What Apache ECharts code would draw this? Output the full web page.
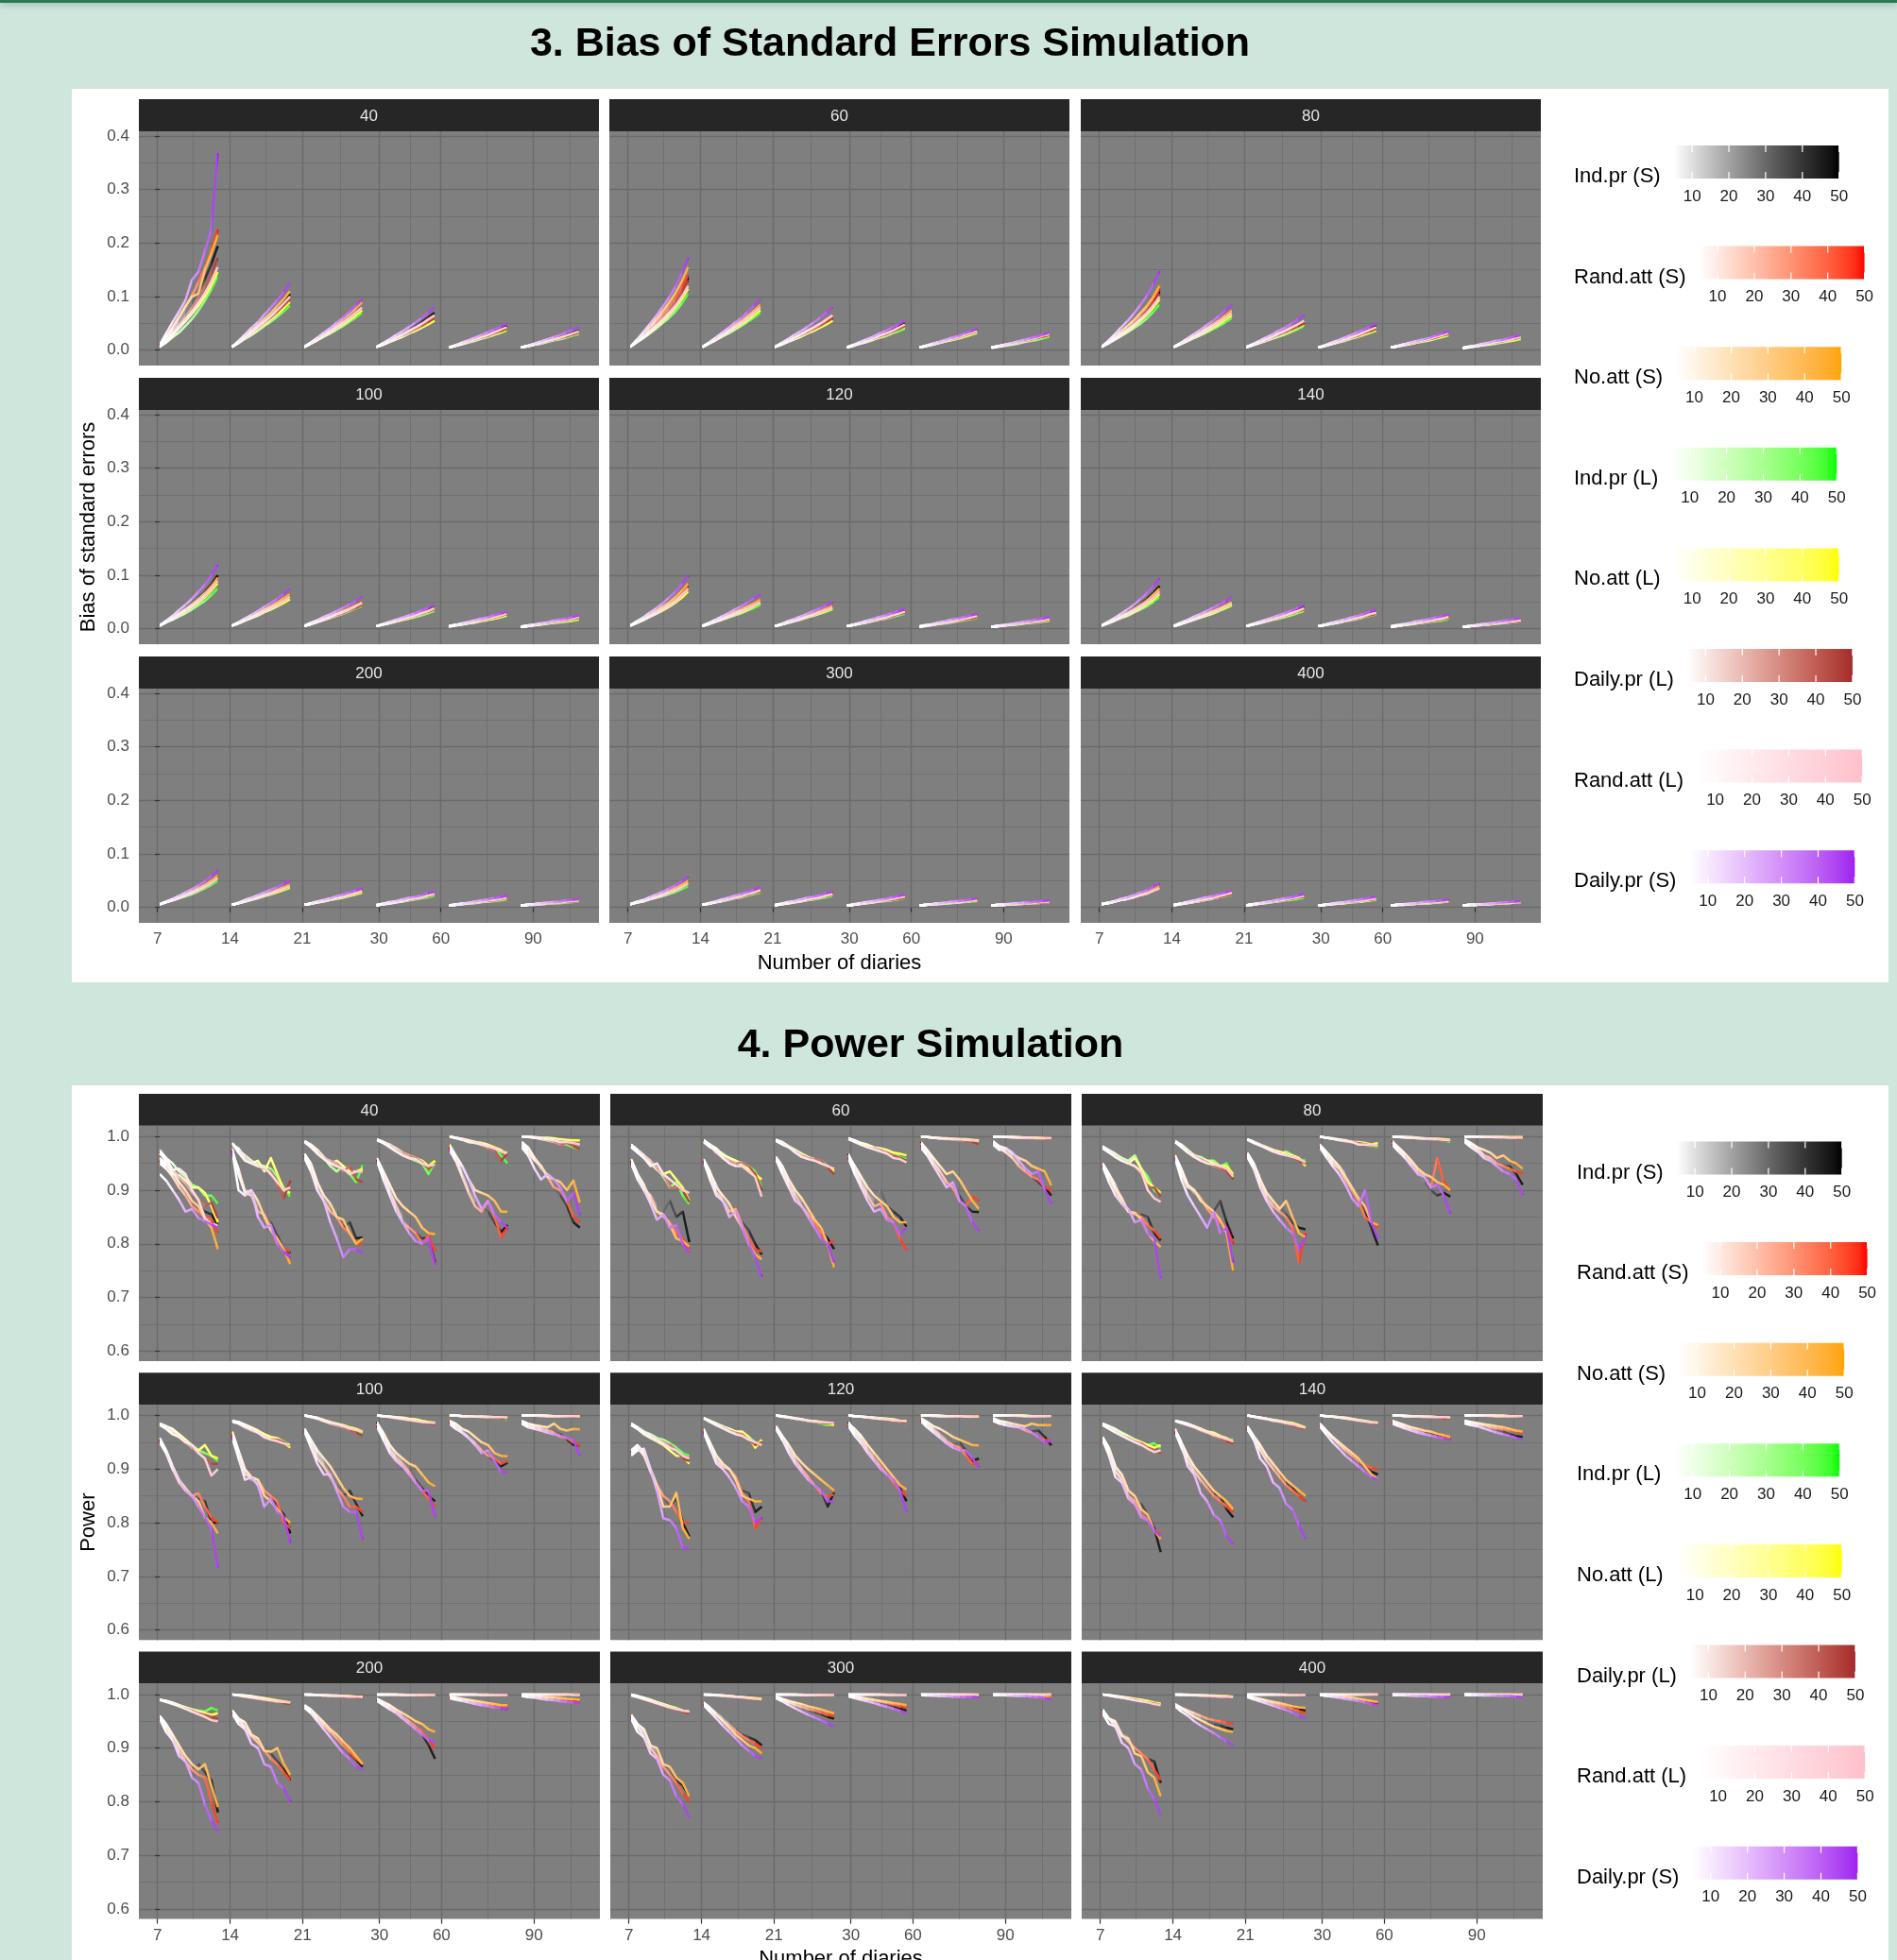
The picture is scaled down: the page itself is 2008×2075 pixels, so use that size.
<!DOCTYPE html>
<html>
<head>
<meta charset="utf-8">
<script src="https://cdn.jsdelivr.net/npm/echarts@6.0.0/dist/echarts.min.js"></script>
<style>
  html, body { margin: 0; padding: 0; background: #cfe6dc; overflow: hidden; }
  #topbar { position: absolute; left: 0; top: 0; width: 2008px; height: 3px; background: #2f7657; box-shadow: 0 2px 6px rgba(40, 90, 70, 0.45); }
  .card { position: absolute; left: 76px; width: 1923px; background: #ffffff; }
  #chart { position: absolute; left: 0; top: 0; width: 2008px; height: 2075px; }
</style>
</head>
<body>
<div id="topbar"></div>
<div class="card" style="top:94px;height:946px"></div>
<div class="card" style="top:1149px;height:926px"></div>
<div id="chart"></div>
<script>
// ---- categories / labels ----
const conditions = ['Ind.pr (S)', 'Rand.att (S)', 'No.att (S)', 'Ind.pr (L)', 'No.att (L)', 'Daily.pr (L)', 'Rand.att (L)', 'Daily.pr (S)'];
const highColors = ['#000000', '#FF0000', '#FFA500', '#00FF00', '#FFFF00', '#A52A2A', '#FFC0CB', '#A020F0'];
const panelLabels = ['40', '60', '80', '100', '120', '140', '200', '300', '400'];
const nValues = [5, 10, 15, 20, 25, 30, 35, 40, 45, 50];
const diaryLabels = ['7', '14', '21', '30', '60', '90'];
const diaryTickPos = [-0.34, 10.9, 22.1, 34.0, 43.6, 57.9];
const diaryMinorPos = [5.2, 16.5, 28.0, 38.8, 50.7, 63.6];
const legendBreaks = [10, 20, 30, 40, 50];
const biasTicks = [0, 0.1, 0.2, 0.3, 0.4];
const powerTicks = [0.6, 0.7, 0.8, 0.9, 1.0];

// ---- bias of standard errors (x1000), rows follow `conditions`, 6 diary groups x 10 n-values ----
const bias_40 = [
  [6,21,36,53,70,89,109,132,160,194, 6,15,25,35,45,56,66,78,91,105, 6,13,20,28,35,43,51,60,70,80, 6,12,18,25,31,38,45,53,61,70, 5,9,13,17,21,25,29,34,39,45, 5,8,11,14,17,21,24,28,32,36],
  [6,24,41,61,80,102,126,153,186,225, 6,14,22,30,39,48,57,67,78,90, 6,12,19,26,33,41,48,56,65,75, 6,11,16,22,27,33,39,45,52,60, 5,8,12,15,19,23,26,31,35,40, 5,8,10,13,16,19,22,25,29,33],
  [6,24,42,62,82,100,105,149,180,215, 6,15,26,36,47,58,69,82,95,110, 6,14,22,30,39,48,57,67,78,90, 6,11,16,22,27,33,39,45,52,60, 5,8,12,15,19,23,26,31,35,40, 5,8,10,13,16,19,22,25,29,33],
  [6,14,24,33,45,58,74,92,113,138, 6,13,21,28,36,45,53,62,72,83, 6,12,18,25,31,38,45,53,61,70, 6,10,15,20,25,31,36,42,48,55, 5,8,11,14,17,21,24,28,32,36, 5,7,10,12,15,18,20,23,27,30],
  [6,17,28,41,54,68,83,100,121,146, 6,14,22,30,39,48,57,67,78,90, 6,12,19,26,33,41,48,56,65,75, 6,10,15,20,25,31,36,42,48,55, 5,8,11,15,18,22,25,29,33,38, 5,7,10,13,16,19,21,25,28,32],
  [6,19,33,47,62,79,97,117,142,172, 6,14,23,32,41,51,60,71,83,95, 6,13,20,28,35,43,51,60,70,80, 6,11,16,22,27,33,39,45,52,60, 5,8,12,15,19,23,26,31,35,40, 5,8,10,13,16,19,22,25,29,33],
  [6,18,30,43,57,72,88,106,128,155, 6,15,24,33,43,53,63,75,87,100, 6,13,20,28,35,43,51,60,70,80, 6,11,17,23,29,36,42,49,57,65, 5,8,12,16,20,24,28,33,38,43, 5,8,11,14,17,20,23,27,31,35],
  [10,31,52,72,93,131,146,184,225,368, 6,17,29,41,52,66,79,93,108,125, 6,14,23,32,41,51,60,71,83,95, 6,13,20,28,35,43,51,60,70,80, 5,9,14,18,23,28,33,38,44,50, 5,8,12,16,20,24,28,33,38,43]
];
const bias_60 = [
  [6,16,27,38,50,63,77,92,112,135, 6,13,21,29,37,46,54,64,74,85, 6,11,17,23,29,36,42,49,57,65, 5,9,14,18,23,28,33,38,44,50, 5,8,11,15,18,22,25,29,33,38, 5,7,10,12,15,18,20,23,27,30],
  [6,17,27,40,52,65,80,96,116,140, 6,13,20,28,35,43,51,60,70,80, 6,11,16,22,27,33,39,45,52,60, 5,9,13,17,21,25,29,34,39,45, 5,8,11,14,17,20,23,27,31,35, 5,7,9,12,14,17,19,22,25,28],
  [6,18,30,43,57,72,88,106,128,155, 6,13,21,29,37,46,54,64,74,85, 6,11,17,23,29,36,42,49,57,65, 5,9,13,17,21,25,29,34,39,45, 5,8,11,14,17,20,23,27,31,35, 5,7,9,12,14,17,19,22,25,28],
  [6,14,22,31,40,50,60,72,87,105, 6,12,18,25,31,38,45,53,61,70, 6,10,15,20,25,31,36,42,48,55, 5,8,12,15,19,23,26,31,35,40, 5,7,10,13,16,19,21,25,28,32, 4,6,8,10,12,15,17,19,22,25],
  [6,15,23,33,43,54,66,79,95,115, 6,12,19,26,33,41,48,56,65,75, 6,10,15,20,25,31,36,42,48,55, 5,8,12,16,20,24,28,33,38,43, 5,8,10,13,16,19,22,25,29,33, 5,7,9,11,14,16,18,21,24,27],
  [6,16,26,37,48,61,74,89,108,130, 6,13,20,28,35,43,51,60,70,80, 6,11,16,22,27,33,39,45,52,60, 5,9,13,17,21,25,29,34,39,45, 5,8,11,14,17,20,23,27,31,35, 5,7,9,12,14,17,19,22,25,28],
  [6,15,24,35,45,56,69,82,99,120, 6,13,20,28,35,43,51,60,70,80, 6,11,17,23,29,36,42,49,57,65, 5,9,13,17,22,27,31,36,42,48, 5,8,11,14,17,21,24,28,32,36, 5,7,10,12,15,18,20,23,27,30],
  [6,19,33,48,63,80,98,118,143,173, 6,14,23,32,41,51,60,71,83,95, 6,13,20,28,35,43,51,60,70,80, 6,10,15,20,25,31,36,42,48,55, 5,8,12,15,19,23,26,31,35,40, 5,8,10,13,16,19,22,25,29,33]
];
const bias_80 = [
  [6,14,23,32,41,52,63,76,91,110, 6,12,19,26,33,41,48,56,65,75, 6,10,15,20,25,31,36,42,48,55, 5,9,13,17,21,25,29,34,39,45, 5,7,10,13,16,19,21,25,28,32, 4,6,8,10,12,15,17,19,22,25],
  [6,15,23,33,43,54,66,79,95,115, 6,12,18,25,31,38,45,53,61,70, 5,9,14,18,23,28,33,38,44,50, 5,8,12,15,19,23,26,31,35,40, 5,7,10,12,15,18,20,23,27,30, 4,6,8,10,12,14,16,19,21,24],
  [6,15,24,35,45,56,69,82,99,120, 6,12,19,26,33,41,48,56,65,75, 6,10,15,20,25,31,36,42,48,55, 5,8,12,15,19,23,26,31,35,40, 5,7,10,12,15,18,20,23,27,30, 4,6,8,10,12,14,16,19,21,24],
  [6,12,19,26,33,41,49,59,71,85, 6,11,16,22,27,33,39,45,52,60, 5,9,13,17,21,25,29,34,39,45, 5,8,11,14,17,21,24,28,32,36, 5,7,9,11,14,16,18,21,24,27, 4,5,7,9,10,12,14,16,18,20],
  [6,13,20,28,36,45,55,66,79,95, 6,11,17,23,29,36,42,49,57,65, 5,9,13,17,22,27,31,36,42,48, 5,8,11,15,18,22,25,29,33,38, 5,7,9,12,14,17,19,22,25,28, 4,6,7,9,11,13,15,17,19,22],
  [6,14,22,31,40,50,60,72,87,105, 6,12,18,25,31,38,45,53,61,70, 5,9,14,18,23,28,33,38,44,50, 5,8,12,15,19,23,26,31,35,40, 5,7,10,12,15,18,20,23,27,30, 4,6,8,10,12,14,16,19,21,24],
  [6,14,21,30,38,47,58,69,83,100, 6,12,18,25,31,38,45,53,61,70, 6,10,15,20,25,31,36,42,48,55, 5,8,12,16,20,24,28,33,38,43, 5,7,10,13,16,19,21,25,28,32, 4,6,8,10,12,15,17,19,22,25],
  [6,17,29,42,54,68,84,101,122,148, 6,13,21,29,37,46,54,64,74,85, 6,11,17,23,29,36,42,49,57,65, 5,9,14,18,23,28,33,38,44,50, 5,8,11,14,17,20,23,27,31,35, 5,7,9,12,14,17,19,22,25,28]
];
const bias_100 = [
  [6,14,21,30,38,47,58,69,83,100, 6,11,17,23,29,36,42,49,57,65, 5,9,14,18,23,28,33,38,44,50, 5,8,12,15,19,23,26,31,35,40, 5,7,9,12,14,17,19,22,25,28, 4,6,7,9,11,13,15,17,19,22],
  [6,13,20,28,36,45,55,66,79,95, 6,11,16,22,27,33,39,45,52,60, 5,9,13,17,22,27,31,36,42,48, 5,8,11,15,18,22,25,29,33,38, 5,7,9,11,14,16,18,21,24,27, 4,5,7,9,10,12,14,16,18,20],
  [6,13,20,28,36,45,55,66,79,95, 6,11,17,23,29,36,42,49,57,65, 5,9,14,18,23,28,33,38,44,50, 5,8,11,15,18,22,25,29,33,38, 5,7,9,11,14,16,18,21,24,27, 4,5,7,9,10,12,14,16,18,20],
  [6,12,17,23,29,36,44,52,63,75, 6,10,15,20,25,31,36,42,48,55, 5,8,12,16,20,24,28,33,38,43, 5,8,10,13,16,19,22,25,29,33, 4,6,8,10,12,14,16,19,21,24, 4,5,6,8,9,11,12,13,15,17],
  [6,12,19,26,33,41,49,59,71,85, 6,10,15,20,25,31,36,42,48,55, 5,9,13,17,21,25,29,34,39,45, 5,8,11,14,17,20,23,27,31,35, 4,6,8,10,12,15,17,19,22,25, 4,5,7,8,10,11,13,14,16,18],
  [6,13,19,27,35,43,52,62,75,90, 6,11,16,22,27,33,39,45,52,60, 5,9,13,17,21,25,29,34,39,45, 5,8,11,14,17,21,24,28,32,36, 5,7,9,11,14,16,18,21,24,27, 4,5,7,9,10,12,14,16,18,20],
  [6,13,19,27,35,43,52,62,75,90, 6,11,16,22,27,33,39,45,52,60, 5,9,13,17,22,27,31,36,42,48, 5,8,11,15,18,22,25,29,33,38, 5,7,9,12,14,17,19,22,25,28, 4,6,7,9,11,13,15,17,19,22],
  [6,15,24,35,45,56,69,82,99,120, 6,12,19,26,33,41,48,56,65,75, 6,11,16,22,27,33,39,45,52,60, 5,9,13,17,21,25,29,34,39,45, 5,7,10,13,16,19,21,25,28,32, 4,6,8,10,12,15,17,19,22,25]
];
const bias_120 = [
  [6,12,19,26,33,41,49,59,71,85, 6,10,15,20,25,31,36,42,48,55, 5,8,12,16,20,24,28,33,38,43, 5,8,10,13,16,19,22,25,29,33, 4,6,8,10,12,15,17,19,22,25, 4,5,7,8,10,11,13,14,16,18],
  [6,12,18,24,31,39,47,56,67,80, 5,9,14,18,23,28,33,38,44,50, 5,8,12,15,19,23,26,31,35,40, 5,7,10,13,16,19,21,25,28,32, 4,6,8,10,12,14,16,19,21,24, 4,5,6,8,9,11,12,13,15,17],
  [6,12,19,26,33,41,49,59,71,85, 6,10,15,20,25,31,36,42,48,55, 5,8,12,16,20,24,28,33,38,43, 5,7,10,13,16,19,21,25,28,32, 4,6,8,10,12,14,16,19,21,24, 4,5,6,8,9,11,12,13,15,17],
  [6,11,16,22,28,34,41,49,58,70, 5,9,13,17,21,25,29,34,39,45, 5,8,11,14,17,21,24,28,32,36, 5,7,9,12,14,17,19,22,25,28, 4,5,7,9,10,12,14,16,18,20, 4,5,6,7,8,10,11,12,13,15],
  [6,11,16,22,28,34,41,49,58,70, 5,9,13,17,22,27,31,36,42,48, 5,8,11,15,18,22,25,29,33,38, 5,7,10,12,15,18,20,23,27,30, 4,6,7,9,11,13,15,17,19,22, 4,5,6,8,9,10,11,13,14,16],
  [6,12,17,23,29,36,44,52,63,75, 5,9,14,18,23,28,33,38,44,50, 5,8,12,15,19,23,26,31,35,40, 5,7,10,12,15,18,20,23,27,30, 4,6,7,9,11,13,15,17,19,22, 4,5,6,8,9,11,12,13,15,17],
  [6,12,17,23,29,36,44,52,63,75, 5,9,14,18,23,28,33,38,44,50, 5,8,12,15,19,23,26,31,35,40, 5,7,10,13,16,19,21,25,28,32, 4,6,8,10,12,14,16,19,21,24, 4,5,7,8,10,11,13,14,16,18],
  [6,14,21,30,38,47,58,69,83,100, 6,11,17,23,29,36,42,49,57,65, 5,9,14,18,23,28,33,38,44,50, 5,8,11,15,18,22,25,29,33,38, 5,7,9,12,14,17,19,22,25,28, 4,6,7,9,11,13,15,17,19,22]
];
const bias_140 = [
  [6,12,18,24,31,39,47,56,67,80, 5,9,14,18,23,28,33,38,44,50, 5,8,12,15,19,23,26,31,35,40, 5,7,10,13,16,19,21,25,28,32, 4,6,7,9,11,13,15,17,19,22, 4,5,6,8,9,10,11,13,14,16],
  [6,12,17,23,29,36,44,52,63,75, 5,9,13,17,22,27,31,36,42,48, 5,8,11,15,18,22,25,29,33,38, 5,7,10,12,15,18,20,23,27,30, 4,6,7,9,11,13,15,17,19,22, 4,5,6,8,9,10,11,13,14,16],
  [6,12,17,23,29,36,44,52,63,75, 5,9,14,18,23,28,33,38,44,50, 5,8,11,15,18,22,25,29,33,38, 5,7,10,12,15,18,20,23,27,30, 4,6,7,9,11,13,15,17,19,22, 4,5,6,8,9,10,11,13,14,16],
  [6,10,15,20,24,30,36,42,50,60, 5,8,12,16,20,24,28,33,38,43, 5,8,10,13,16,19,22,25,29,33, 5,7,9,11,14,16,18,21,24,27, 4,5,7,8,10,11,13,14,16,18, 4,5,6,7,8,9,10,11,13,14],
  [6,11,15,21,26,32,38,46,54,65, 5,9,13,17,21,25,29,34,39,45, 5,8,11,14,17,20,23,27,31,35, 5,7,9,12,14,17,19,22,25,28, 4,5,7,9,10,12,14,16,18,20, 4,5,6,7,8,10,11,12,13,15],
  [6,11,16,22,28,34,41,49,58,70, 5,9,13,17,22,27,31,36,42,48, 5,8,11,14,17,21,24,28,32,36, 5,7,9,12,14,17,19,22,25,28, 4,5,7,9,10,12,14,16,18,20, 4,5,6,7,8,10,11,12,13,15],
  [6,11,16,22,28,34,41,49,58,70, 5,9,13,17,22,27,31,36,42,48, 5,8,11,15,18,22,25,29,33,38, 5,7,10,12,15,18,20,23,27,30, 4,6,7,9,11,13,15,17,19,22, 4,5,6,8,9,10,11,13,14,16],
  [6,13,20,28,36,45,55,66,79,95, 6,11,16,22,27,33,39,45,52,60, 5,9,13,17,21,25,29,34,39,45, 5,8,11,14,17,21,24,28,32,36, 5,7,9,11,14,16,18,21,24,27, 4,5,7,9,10,12,14,16,18,20]
];
const bias_200 = [
  [6,10,15,20,24,30,36,42,50,60, 5,8,12,16,20,24,28,33,38,43, 5,7,10,13,16,19,21,25,28,32, 5,7,9,11,14,16,18,21,24,27, 4,5,7,8,10,11,13,14,16,18, 4,5,6,7,8,9,9,11,12,13],
  [6,10,14,19,24,29,35,41,49,58, 5,8,12,15,19,23,26,31,35,40, 5,7,10,12,15,18,20,23,27,30, 4,6,8,10,12,15,17,19,22,25, 4,5,7,8,10,11,13,14,16,18, 4,5,6,7,8,9,9,11,12,13],
  [6,10,15,20,24,30,36,42,50,60, 5,8,12,16,20,24,28,33,38,43, 5,7,10,13,16,19,21,25,28,32, 4,6,8,10,12,15,17,19,22,25, 4,5,7,8,10,11,13,14,16,18, 4,5,6,7,8,9,9,11,12,13],
  [6,10,13,17,21,25,30,36,42,50, 5,8,11,14,17,21,24,28,32,36, 5,7,9,11,14,16,18,21,24,27, 4,6,7,9,11,13,15,17,19,22, 4,5,6,7,8,10,11,12,13,15, 4,5,5,6,7,8,8,9,10,11],
  [6,10,14,18,23,28,33,39,46,55, 5,8,11,15,18,22,25,29,33,38, 5,7,9,12,14,17,19,22,25,28, 4,6,8,10,12,14,16,19,21,24, 4,5,6,8,9,10,11,13,14,16, 4,5,6,6,7,8,9,10,11,12],
  [6,10,14,18,23,28,33,39,46,55, 5,8,12,15,19,23,26,31,35,40, 5,7,10,12,15,18,20,23,27,30, 4,6,8,10,12,14,16,19,21,24, 4,5,6,8,9,11,12,13,15,17, 4,5,6,6,7,8,9,10,11,12],
  [6,10,14,18,23,28,33,39,46,55, 5,8,12,15,19,23,26,31,35,40, 5,7,10,12,15,18,20,23,27,30, 4,6,8,10,12,15,17,19,22,25, 4,5,7,8,10,11,13,14,16,18, 4,5,6,7,8,9,9,11,12,13],
  [6,11,16,22,28,34,41,49,58,70, 5,9,14,18,23,28,33,38,44,50, 5,8,11,14,17,21,24,28,32,36, 5,7,10,12,15,18,20,23,27,30, 4,6,7,9,11,13,15,17,19,22, 4,5,6,8,9,10,11,13,14,16]
];
const bias_300 = [
  [6,10,13,17,21,25,30,36,42,50, 5,8,10,13,16,19,22,25,29,33, 5,7,9,11,14,16,18,21,24,27, 4,5,7,9,10,12,14,16,18,20, 4,5,6,7,8,10,11,12,13,15, 4,5,6,6,7,8,9,10,11,12],
  [6,10,13,17,21,25,30,36,42,50, 5,7,10,13,16,19,21,25,28,32, 4,6,8,10,12,15,17,19,22,25, 4,5,7,9,10,12,14,16,18,20, 4,5,6,7,8,9,10,11,13,14, 4,5,5,6,7,8,8,9,10,11],
  [6,10,13,17,21,25,30,36,42,50, 5,8,10,13,16,19,22,25,29,33, 4,6,8,10,12,15,17,19,22,25, 4,5,7,9,10,12,14,16,18,20, 4,5,6,7,8,9,10,11,13,14, 4,5,5,6,7,8,8,9,10,11],
  [6,9,11,15,18,21,25,29,34,40, 5,7,9,12,14,17,19,22,25,28, 4,6,7,9,11,13,15,17,19,22, 4,5,6,8,9,11,12,13,15,17, 4,5,6,6,7,8,9,10,11,12, 4,5,5,6,6,7,8,8,9,10],
  [6,9,12,16,19,23,28,32,38,45, 5,7,10,12,15,18,20,23,27,30, 4,6,8,10,12,14,16,19,21,24, 4,5,7,8,10,11,13,14,16,18, 4,5,6,7,8,9,9,11,12,13, 4,5,5,6,6,7,8,8,9,10],
  [6,9,12,16,19,23,28,32,38,45, 5,7,10,12,15,18,20,23,27,30, 4,6,8,10,12,14,16,19,21,24, 4,5,7,8,10,11,13,14,16,18, 4,5,6,7,8,9,10,11,13,14, 4,5,5,6,6,7,8,8,9,10],
  [6,9,12,16,19,23,28,32,38,45, 5,7,10,13,16,19,21,25,28,32, 4,6,8,10,12,15,17,19,22,25, 4,5,7,9,10,12,14,16,18,20, 4,5,6,7,8,9,10,11,13,14, 4,5,5,6,7,8,8,9,10,11],
  [6,10,14,19,24,29,35,41,49,58, 5,8,11,15,18,22,25,29,33,38, 5,7,10,12,15,18,20,23,27,30, 4,6,8,10,12,14,16,19,21,24, 4,5,6,8,9,11,12,13,15,17, 4,5,6,7,8,9,9,11,12,13]
];
const bias_400 = [
  [6,9,11,15,18,21,25,29,34,40, 5,7,9,12,14,17,19,22,25,28, 4,6,7,9,11,13,15,17,19,22, 4,5,6,8,9,11,12,13,15,17, 4,5,6,7,8,9,9,11,12,13, 4,5,5,6,6,7,8,8,9,10],
  [6,9,11,15,18,21,25,29,34,40, 5,7,9,11,14,16,18,21,24,27, 4,6,7,9,11,13,15,17,19,22, 4,5,6,8,9,10,11,13,14,16, 4,5,6,6,7,8,9,10,11,12, 4,5,5,6,6,7,8,8,9,10],
  [6,9,11,15,18,21,25,29,34,40, 5,7,9,12,14,17,19,22,25,28, 4,6,7,9,11,13,15,17,19,22, 4,5,6,8,9,11,12,13,15,17, 4,5,6,6,7,8,9,10,11,12, 4,5,5,6,6,7,8,8,9,10],
  [6,8,11,14,16,19,23,26,31,36, 4,6,8,10,12,14,16,19,21,24, 4,5,7,8,10,11,13,14,16,18, 4,5,6,7,8,9,10,11,13,14, 4,5,5,6,7,8,8,9,10,11, 4,5,5,6,6,7,8,8,9,10],
  [6,8,11,14,16,19,23,26,31,36, 4,6,8,10,12,15,17,19,22,25, 4,5,7,9,10,12,14,16,18,20, 4,5,6,7,8,10,11,12,13,15, 4,5,5,6,7,8,8,9,10,11, 4,5,5,6,6,7,8,8,9,10],
  [6,8,11,14,16,19,23,26,31,36, 4,6,8,10,12,15,17,19,22,25, 4,5,7,9,10,12,14,16,18,20, 4,5,6,8,9,10,11,13,14,16, 4,5,6,6,7,8,9,10,11,12, 4,5,5,6,6,7,8,8,9,10],
  [6,8,11,14,16,19,23,26,31,36, 5,7,9,11,14,16,18,21,24,27, 4,6,7,9,11,13,15,17,19,22, 4,5,6,8,9,11,12,13,15,17, 4,5,6,6,7,8,9,10,11,12, 4,5,5,6,6,7,8,8,9,10],
  [6,9,12,16,19,23,28,32,38,45, 5,7,10,13,16,19,21,25,28,32, 4,6,8,10,12,15,17,19,22,25, 4,5,7,9,10,12,14,16,18,20, 4,5,6,7,8,10,11,12,13,15, 4,5,6,6,7,8,9,10,11,12]
];

// ---- power (x1000), rows follow `conditions` ----
const power_40 = [
  [955,945,930,910,895,880,870,860,855,835, 975,935,900,895,870,850,840,815,790,783, 965,945,910,890,870,860,830,840,810,812, 958,930,900,870,850,830,820,810,810,765, 985,960,930,900,880,870,860,840,822,835, 990,975,960,940,930,905,890,870,840,830],
  [950,940,925,905,890,870,860,850,845,820, 970,940,895,890,860,855,830,800,790,785, 965,940,900,880,860,850,830,820,800,800, 956,925,895,870,840,830,820,800,815,786, 980,955,925,895,870,860,880,850,812,830, 985,970,955,945,925,905,900,880,850,840],
  [960,950,935,915,900,880,870,845,830,790, 978,930,895,900,880,850,825,810,790,762, 968,950,915,890,875,850,845,820,800,810, 960,935,910,885,870,860,850,830,820,818, 985,965,945,920,900,895,890,880,860,860, 990,980,960,945,925,920,915,900,918,877],
  [975,960,950,935,925,910,905,890,890,875, 988,975,965,955,948,945,940,925,905,888, 990,985,970,960,945,935,945,930,915,947, 995,990,982,975,965,960,955,950,930,953, 1000,998,995,992,990,985,980,975,965,950, 1000,1000,998,995,993,990,988,985,980,976],
  [970,955,930,928,918,905,905,895,870,840, 985,978,960,950,955,935,960,930,900,895, 992,985,975,962,950,955,945,935,935,940, 995,990,985,978,970,965,960,955,945,955, 1000,998,996,993,990,988,985,980,975,965, 1000,1000,999,998,998,997,995,994,993,993],
  [972,955,938,925,912,895,882,870,877,848, 985,975,962,950,945,940,935,910,885,918, 990,982,972,960,955,950,935,945,920,915, 995,988,985,975,970,965,960,952,940,950, 1000,998,995,990,988,985,978,975,955,968, 1000,1000,998,996,994,990,985,988,982,976],
  [968,960,938,940,930,900,882,848,836,835, 988,970,955,950,945,942,930,915,900,905, 990,980,968,958,950,945,940,930,935,935, 993,988,980,972,965,960,958,950,945,948, 1000,997,994,990,988,985,982,978,972,970, 1000,999,998,997,995,993,990,990,988,985],
  [930,918,900,882,860,865,848,842,836,830, 975,900,890,900,850,830,835,800,785,774, 960,935,900,880,840,810,775,790,790,782, 955,920,890,860,840,820,805,800,810,760, 975,955,945,920,890,865,880,855,840,830, 980,965,940,920,930,920,905,880,895,853]
];
const power_60 = [
  [955,930,905,890,870,860,880,850,860,803, 956,930,910,880,870,855,840,825,800,780, 962,940,915,895,880,860,840,825,810,790, 968,940,920,895,880,900,870,860,850,832, 990,975,955,935,915,900,890,870,860,859, 992,980,975,965,950,935,925,915,905,890],
  [950,925,900,890,860,850,840,820,810,790, 955,925,895,880,860,865,835,810,790,785, 958,935,910,890,870,855,840,820,800,805, 962,935,910,890,870,875,850,840,810,788, 985,970,950,935,915,905,880,870,888,880, 988,978,970,960,945,935,925,920,905,900],
  [958,930,910,880,860,855,835,810,805,795, 958,935,905,890,875,850,830,800,780,771, 962,945,920,900,885,865,845,830,800,756, 965,945,925,905,890,880,870,850,840,840, 988,975,960,945,930,935,920,900,880,865, 990,982,978,968,960,955,945,940,935,909],
  [985,975,965,950,940,925,905,915,890,874, 994,985,975,968,960,955,950,945,935,905, 994,988,980,975,965,960,955,955,945,938, 997,992,985,982,978,975,970,968,962,958, 1000,999,998,997,996,995,994,993,992,990, 1000,1000,999,999,998,998,997,997,996,995],
  [982,972,960,950,938,930,935,920,905,880, 992,985,978,965,960,955,945,940,930,920, 994,990,982,975,968,962,958,950,945,935, 997,993,988,985,980,978,975,970,968,965, 1000,999,998,997,997,996,995,995,994,993, 1000,1000,999,999,999,998,998,998,997,997],
  [985,975,965,955,940,930,905,905,900,878, 994,983,970,960,955,950,952,945,930,900, 994,988,980,972,965,960,958,955,942,930, 997,990,985,980,978,975,970,965,960,955, 1000,999,998,996,995,995,993,992,990,986, 1000,1000,999,998,998,997,997,996,996,995],
  [980,970,960,945,950,930,920,910,900,895, 990,980,975,960,950,945,945,935,925,888, 992,985,980,970,962,958,955,950,945,940, 995,990,985,980,976,972,968,960,958,952, 1000,999,998,997,996,995,995,994,993,992, 1000,1000,999,999,998,998,998,997,997,997],
  [950,920,900,875,845,855,830,835,800,783, 955,920,890,880,850,860,830,800,775,738, 958,930,905,880,870,850,830,810,800,765, 960,930,905,880,860,865,845,840,818,830, 980,965,945,925,905,915,880,870,840,824, 985,975,978,970,955,940,930,935,900,874]
];
const power_80 = [
  [950,930,910,880,860,850,855,850,820,806, 965,935,910,895,885,870,860,880,840,810, 970,950,920,890,875,870,855,840,830,827, 985,970,955,945,930,900,880,860,830,797, 992,978,960,950,930,915,900,890,895,888, 995,985,975,965,955,950,945,945,930,910],
  [945,925,900,875,860,855,850,835,825,810, 962,930,905,900,885,865,850,840,830,800, 965,945,915,885,870,860,850,830,765,820, 982,965,950,940,920,900,880,850,840,830, 988,975,962,950,935,925,905,960,915,900, 992,985,978,965,960,950,945,940,935,930],
  [950,930,905,885,860,858,845,820,805,794, 965,940,910,900,880,870,860,845,820,750, 968,950,920,895,880,865,880,850,820,812, 985,972,958,945,925,905,885,870,840,835, 990,980,968,955,940,930,925,915,910,900, 995,988,980,975,970,960,965,955,950,940],
  [982,975,968,960,955,965,940,925,900,890, 992,985,975,965,962,955,955,945,950,925, 995,990,985,980,975,968,972,965,958,955, 1000,998,996,994,992,990,988,985,982,980, 1000,1000,999,998,997,996,995,994,993,990, 1000,1000,1000,999,999,999,998,998,998,997],
  [982,972,962,955,950,960,940,915,905,895, 990,982,972,965,958,955,950,945,945,930, 995,990,985,980,975,972,968,965,960,945, 1000,998,997,995,993,990,990,988,985,988, 1000,1000,999,999,998,997,996,996,995,994, 1000,1000,1000,1000,999,999,999,999,999,999],
  [980,972,965,955,950,945,930,905,905,888, 992,983,972,963,958,952,945,940,935,920, 995,990,985,978,972,968,965,962,955,950, 1000,998,996,993,991,990,988,986,983,982, 1000,999,999,998,997,996,995,994,993,992, 1000,1000,999,999,999,998,998,998,997,997],
  [978,970,962,955,950,945,935,900,885,878, 990,980,970,962,955,950,948,945,940,925, 994,988,983,978,972,968,965,962,958,952, 1000,998,996,994,992,990,985,985,984,983, 1000,999,998,998,997,996,996,995,994,993, 1000,1000,1000,999,999,999,999,998,998,998],
  [945,915,890,875,865,840,845,820,810,735, 960,920,890,870,850,830,860,820,830,765, 962,940,905,880,860,845,830,820,790,812, 980,962,945,930,910,885,870,900,840,810, 985,972,960,945,930,925,905,910,890,856, 990,980,972,960,955,945,935,930,920,891]
];
const power_100 = [
  [956,935,905,880,860,850,845,840,800,800, 970,930,895,880,875,860,850,830,815,780, 975,950,930,910,890,870,850,860,835,812, 988,965,940,925,915,900,880,865,850,840, 990,980,970,960,950,935,925,915,905,912, 990,982,980,978,975,970,965,955,945,944],
  [952,930,900,875,860,850,855,830,810,800, 965,925,890,885,880,860,850,840,800,790, 972,945,920,905,885,865,850,830,830,820, 982,960,935,920,910,895,875,860,845,830, 988,978,968,958,948,935,925,920,910,915, 988,980,978,975,972,968,960,958,950,944],
  [958,935,905,880,865,850,840,810,800,780, 970,935,900,885,880,850,840,825,810,800, 975,955,935,920,905,885,865,850,845,844, 985,968,945,930,920,910,905,890,875,868, 990,985,975,970,960,950,945,930,925,924, 990,985,982,980,978,985,975,972,975,974],
  [985,980,970,965,955,945,935,930,925,915, 990,988,982,975,970,965,958,955,952,945, 1000,998,995,990,985,982,978,975,972,968, 1000,999,998,996,995,993,991,990,988,987, 1000,1000,999,999,998,998,997,996,995,993, 1000,1000,1000,1000,999,999,999,999,998,998],
  [985,980,975,965,955,940,935,945,925,920, 990,988,983,978,972,965,960,958,950,940, 1000,998,996,992,988,985,982,978,975,970, 1000,999,998,997,996,994,993,990,988,986, 1000,1000,999,999,998,998,997,997,996,996, 1000,1000,1000,1000,1000,999,999,999,999,999],
  [983,978,968,960,950,940,930,920,910,910, 988,985,978,972,968,958,955,955,950,944, 1000,997,994,990,985,982,978,972,968,962, 1000,999,997,995,993,991,989,987,985,984, 1000,1000,999,998,998,997,997,996,995,995, 1000,1000,1000,999,999,999,999,998,998,997],
  [982,975,965,960,950,945,930,920,888,900, 990,986,980,975,968,960,955,952,948,945, 1000,998,995,990,987,984,980,976,973,970, 1000,999,998,996,994,992,990,988,987,986, 1000,1000,999,999,998,998,998,997,997,996, 1000,1000,1000,1000,999,999,999,999,999,998],
  [950,930,900,880,860,850,830,810,790,715, 960,920,880,885,870,830,845,820,810,762, 970,940,910,890,890,860,830,820,820,768, 980,955,930,915,905,890,875,860,860,810, 985,975,968,958,945,930,935,915,895,894, 985,978,975,972,968,965,962,958,955,924]
];
const power_120 = [
  [930,940,935,900,870,850,830,845,800,774, 975,945,920,905,900,880,860,855,820,830, 980,960,940,920,900,885,870,860,830,856, 988,970,960,940,925,905,890,875,865,840, 995,985,975,965,955,945,950,935,915,920, 995,988,985,982,980,975,970,972,960,944],
  [930,940,925,895,870,850,840,820,800,800, 970,940,915,905,900,885,855,840,790,810, 978,955,935,915,900,885,870,855,850,852, 982,968,955,935,920,905,890,875,860,850, 992,982,972,962,952,945,940,925,910,910, 992,985,982,980,978,972,968,960,955,953],
  [935,945,930,900,870,830,830,856,790,770, 975,950,925,910,900,880,850,845,840,840, 980,962,945,925,912,900,890,880,870,860, 985,975,962,945,930,915,900,885,870,862, 995,988,980,975,968,960,955,950,945,944, 995,990,988,985,982,980,985,982,982,982],
  [985,978,970,965,958,955,948,940,930,925, 995,990,985,980,975,970,965,960,950,945, 1000,998,996,994,992,990,988,985,982,984, 1000,999,998,997,996,995,994,992,988,985, 1000,1000,1000,999,999,999,998,998,997,997, 1000,1000,1000,1000,1000,999,999,999,999,999],
  [983,975,965,958,952,945,935,925,925,910, 995,990,985,978,975,970,970,960,940,955, 1000,999,997,995,993,990,990,988,985,982, 1000,999,998,997,996,995,994,993,990,990, 1000,1000,1000,1000,999,999,999,999,998,998, 1000,1000,1000,1000,1000,1000,999,999,999,999],
  [985,978,968,960,955,950,945,935,920,915, 995,990,982,978,972,968,965,955,945,950, 1000,998,996,994,992,990,988,986,985,986, 1000,999,998,996,995,993,992,990,988,986, 1000,1000,999,999,999,998,998,998,997,997, 1000,1000,1000,1000,999,999,999,999,999,998],
  [982,975,968,960,955,948,940,935,925,920, 995,988,982,976,970,965,962,955,950,945, 1000,999,997,995,993,991,989,988,987,986, 1000,999,998,997,995,994,993,991,990,989, 1000,1000,1000,999,999,999,999,998,998,998, 1000,1000,1000,1000,1000,999,999,999,999,999],
  [925,935,938,900,860,808,805,790,753,752, 970,940,910,900,885,865,840,830,800,810, 975,955,930,910,895,880,870,860,840,840, 980,962,948,930,915,900,890,880,860,820, 990,978,968,958,948,940,935,935,920,903, 990,985,982,980,978,975,968,960,950,953]
];
const power_140 = [
  [960,935,905,880,865,840,835,815,790,745, 975,950,915,905,875,865,855,850,825,810, 980,960,940,920,905,890,875,865,850,840, 985,972,960,948,935,925,915,905,895,890, 990,985,980,975,970,968,965,962,958,955, 990,988,985,982,978,975,970,965,962,960],
  [955,930,895,880,850,840,815,805,785,780, 970,940,915,895,880,865,850,840,830,820, 975,955,935,915,900,885,870,860,850,840, 982,970,958,946,935,925,915,908,902,900, 988,983,978,974,970,966,963,960,958,956, 988,986,984,982,978,976,974,972,970,968],
  [960,940,905,890,860,850,825,815,785,770, 975,950,925,905,890,875,860,850,840,825, 980,962,945,925,910,895,880,870,860,850, 985,972,960,950,940,930,920,905,890,880, 990,986,982,978,975,972,970,966,963,960, 990,988,986,984,982,980,978,975,972,970],
  [985,980,975,968,962,955,950,945,948,940, 990,988,985,980,975,970,965,960,955,955, 1000,998,996,994,992,990,987,985,980,975, 1000,999,998,997,995,993,991,990,988,985, 1000,1000,999,999,998,998,997,997,996,995, 1000,1000,1000,1000,1000,999,999,999,999,999],
  [985,980,972,965,960,955,950,945,940,945, 990,988,984,980,975,970,968,962,958,950, 1000,998,996,994,992,990,988,986,982,978, 1000,999,998,997,996,994,992,990,988,987, 1000,1000,1000,999,999,998,998,997,997,996, 1000,1000,1000,1000,1000,1000,1000,999,999,999],
  [983,978,970,963,958,952,948,940,935,930, 990,986,982,978,972,968,962,958,952,948, 1000,998,995,993,990,988,985,983,978,975, 1000,999,998,996,994,992,990,988,986,984, 1000,1000,999,999,998,997,997,996,995,995, 1000,1000,1000,1000,999,999,999,999,999,998],
  [982,975,968,962,956,950,945,938,932,935, 990,987,983,979,974,969,964,960,956,952, 1000,998,996,994,991,989,986,984,980,977, 1000,999,998,996,995,993,991,989,987,986, 1000,1000,999,999,999,998,998,997,997,996, 1000,1000,1000,1000,1000,999,999,999,999,999],
  [955,925,885,875,845,835,810,805,785,775, 970,945,905,890,855,840,815,805,775,760, 975,955,920,905,875,865,835,825,795,770, 980,965,950,938,925,915,905,895,885,880, 985,980,976,972,968,965,962,960,957,955, 985,982,980,976,972,968,965,962,958,955]
];
const power_200 = [
  [960,940,925,895,885,860,870,855,840,780, 970,955,940,925,910,900,890,875,860,840, 980,970,955,945,930,920,905,890,878,865, 992,985,978,970,960,950,940,925,905,880, 995,993,990,988,985,983,980,978,975,972, 998,996,995,994,993,992,990,988,987,985],
  [955,940,915,895,875,860,850,845,800,760, 968,952,938,922,910,895,880,870,855,840, 978,968,955,942,930,918,905,892,880,870, 990,982,975,968,958,950,940,930,915,900, 995,992,990,987,985,982,980,978,976,975, 998,996,995,993,992,990,989,987,986,985],
  [960,945,925,905,885,870,860,870,830,790, 970,955,948,925,918,895,893,900,870,850, 980,972,960,948,935,925,912,900,885,870, 992,986,980,972,965,958,950,945,935,930, 996,994,992,990,988,986,984,982,980,980, 999,998,997,996,995,994,993,992,991,990],
  [990,988,985,980,975,972,970,968,975,970, 1000,999,998,996,994,992,990,988,985,985, 1000,1000,999,999,998,998,997,996,995,995, 1000,1000,1000,1000,999,999,999,999,999,998, 1000,1000,1000,1000,1000,999,999,999,999,999, 1000,1000,1000,1000,1000,1000,1000,1000,1000,999],
  [990,988,984,980,976,972,968,965,962,965, 1000,999,998,997,995,993,991,989,987,985, 1000,1000,999,999,998,998,997,997,996,996, 1000,1000,1000,1000,1000,999,999,999,999,999, 1000,1000,1000,1000,1000,1000,1000,999,999,999, 1000,1000,1000,1000,1000,1000,1000,1000,1000,1000],
  [990,986,982,978,974,970,965,962,958,955, 1000,998,996,994,992,990,988,986,984,982, 1000,999,999,998,997,997,996,995,994,994, 1000,1000,1000,999,999,999,999,998,998,998, 1000,1000,1000,1000,999,999,999,999,999,999, 1000,1000,1000,1000,1000,1000,1000,999,999,999],
  [990,987,983,978,973,968,963,958,952,950, 1000,999,997,995,993,991,989,987,986,985, 1000,1000,999,998,998,997,997,996,996,995, 1000,1000,1000,1000,999,999,999,999,999,999, 1000,1000,1000,1000,1000,999,999,999,999,999, 1000,1000,1000,1000,1000,1000,1000,1000,999,999],
  [955,930,915,885,875,845,835,795,765,745, 965,945,935,908,900,870,865,835,825,800, 975,965,950,935,920,905,890,880,865,860, 988,980,972,965,955,945,935,925,915,910, 993,990,988,985,982,980,978,975,975,972, 997,995,994,992,990,989,987,986,985,983]
];
const power_300 = [
  [962,940,930,900,895,865,865,840,830,810, 985,975,965,955,945,935,925,920,915,905, 995,990,985,980,975,970,967,963,958,955, 997,995,993,990,988,985,982,978,974,970, 999,999,998,998,997,997,996,996,995,995, 1000,999,999,999,998,998,998,997,997,996],
  [958,940,920,900,885,865,850,835,815,800, 982,972,962,952,942,932,922,915,908,900, 995,990,985,981,977,973,970,966,962,960, 997,995,993,991,989,987,984,981,978,975, 999,999,998,998,997,997,996,996,996,995, 1000,999,999,998,998,998,997,997,996,996],
  [962,945,935,905,900,870,865,845,835,810, 985,975,962,950,938,925,915,905,900,890, 996,992,988,985,982,978,975,972,968,965, 998,996,994,992,990,988,986,984,982,980, 1000,999,999,998,998,998,997,997,997,996, 1000,1000,999,999,999,998,998,998,997,997],
  [1000,997,994,990,985,982,978,975,970,966, 1000,1000,999,998,997,996,995,994,992,990, 1000,1000,1000,1000,999,999,999,999,998,998, 1000,1000,1000,1000,1000,1000,999,999,999,999, 1000,1000,1000,1000,1000,1000,1000,1000,999,999, 1000,1000,1000,1000,1000,1000,1000,1000,1000,1000],
  [1000,997,993,990,986,982,978,974,970,968, 1000,1000,999,998,997,996,995,994,993,992, 1000,1000,1000,1000,1000,999,999,999,999,999, 1000,1000,1000,1000,1000,1000,1000,1000,999,999, 1000,1000,1000,1000,1000,1000,1000,1000,1000,1000, 1000,1000,1000,1000,1000,1000,1000,1000,1000,1000],
  [998,995,991,987,983,979,975,972,968,965, 1000,999,998,997,996,995,994,992,991,990, 1000,1000,1000,999,999,999,999,998,998,998, 1000,1000,1000,1000,1000,999,999,999,999,999, 1000,1000,1000,1000,1000,1000,1000,999,999,999, 1000,1000,1000,1000,1000,1000,1000,1000,1000,999],
  [999,996,992,988,984,980,976,973,970,968, 1000,999,999,998,997,996,995,993,992,991, 1000,1000,1000,1000,999,999,999,999,999,999, 1000,1000,1000,1000,1000,1000,999,999,999,999, 1000,1000,1000,1000,1000,1000,1000,1000,1000,999, 1000,1000,1000,1000,1000,1000,1000,1000,1000,1000],
  [955,930,920,890,880,850,840,810,795,770, 980,968,955,942,930,918,905,895,885,880, 993,987,980,974,968,962,957,952,946,940, 996,993,990,987,984,980,977,973,969,965, 999,998,998,997,997,996,996,995,995,994, 999,999,998,998,997,997,996,995,993,990]
];
const power_400 = [
  [972,955,950,925,920,895,890,880,875,835, 982,975,968,962,955,950,945,942,938,935, 996,993,990,987,984,981,978,975,972,970, 999,998,997,996,994,992,990,988,985,983, 1000,999,999,999,998,998,998,997,997,996, 1000,1000,999,999,999,999,998,998,998,997],
  [968,955,940,925,912,900,890,880,860,840, 980,975,970,965,960,955,952,950,947,945, 996,993,990,987,984,980,977,973,969,965, 999,998,997,996,995,993,991,989,987,985, 1000,999,999,998,998,998,997,997,997,996, 1000,1000,999,999,999,998,998,998,998,997],
  [970,955,948,922,918,890,885,855,845,810, 982,974,966,958,952,946,940,936,932,930, 997,994,992,989,986,984,981,978,976,975, 1000,999,998,997,996,994,992,990,988,986, 1000,1000,999,999,999,998,998,998,998,997, 1000,1000,1000,999,999,999,999,998,998,998],
  [1000,999,997,995,993,991,989,987,984,982, 1000,1000,999,999,998,998,997,997,996,995, 1000,1000,1000,1000,1000,999,999,999,999,999, 1000,1000,1000,1000,1000,1000,1000,1000,1000,999, 1000,1000,1000,1000,1000,1000,1000,1000,1000,1000, 1000,1000,1000,1000,1000,1000,1000,1000,1000,1000],
  [1000,999,997,996,994,992,990,988,985,983, 1000,1000,1000,999,999,998,998,997,997,996, 1000,1000,1000,1000,1000,1000,1000,999,999,999, 1000,1000,1000,1000,1000,1000,1000,1000,1000,1000, 1000,1000,1000,1000,1000,1000,1000,1000,1000,1000, 1000,1000,1000,1000,1000,1000,1000,1000,1000,1000],
  [1000,998,996,994,992,990,987,985,983,980, 1000,999,999,998,998,997,996,996,995,994, 1000,1000,1000,1000,999,999,999,999,999,998, 1000,1000,1000,1000,1000,1000,1000,999,999,999, 1000,1000,1000,1000,1000,1000,1000,1000,1000,999, 1000,1000,1000,1000,1000,1000,1000,1000,1000,1000],
  [1000,998,996,994,992,989,987,985,982,980, 1000,1000,999,999,998,998,997,996,996,995, 1000,1000,1000,1000,1000,1000,999,999,999,999, 1000,1000,1000,1000,1000,1000,1000,1000,1000,1000, 1000,1000,1000,1000,1000,1000,1000,1000,1000,1000, 1000,1000,1000,1000,1000,1000,1000,1000,1000,1000],
  [965,945,940,910,900,870,860,825,805,775, 978,968,960,950,942,935,928,920,912,905, 995,991,987,983,979,975,971,966,960,955, 999,997,996,994,992,990,988,985,982,980, 999,999,998,998,997,997,996,996,995,995, 1000,999,999,998,998,998,997,997,996,995]
];

const biasPanels = [bias_40, bias_60, bias_80, bias_100, bias_120, bias_140, bias_200, bias_300, bias_400];
const powerPanels = [power_40, power_60, power_80, power_100, power_120, power_140, power_200, power_300, power_400];

// ---- colour helpers (ggplot-like Lab interpolation from white) ----
function toLin(c) { c /= 255; return c <= 0.04045 ? c / 12.92 : Math.pow((c + 0.055) / 1.055, 2.4); }
function fromLin(c) { const v = c <= 0.0031308 ? 12.92 * c : 1.055 * Math.pow(c, 1 / 2.4) - 0.055; return Math.round(Math.max(0, Math.min(1, v)) * 255); }
function hexToLab(hex) {
  const r = toLin(parseInt(hex.slice(1, 3), 16)), g = toLin(parseInt(hex.slice(3, 5), 16)), b = toLin(parseInt(hex.slice(5, 7), 16));
  const X = (0.4124564 * r + 0.3575761 * g + 0.1804375 * b) / 0.95047;
  const Y = (0.2126729 * r + 0.7151522 * g + 0.0721750 * b);
  const Z = (0.0193339 * r + 0.1191920 * g + 0.9503041 * b) / 1.08883;
  const f = t => t > 0.008856 ? Math.cbrt(t) : 7.787 * t + 16 / 116;
  const fx = f(X), fy = f(Y), fz = f(Z);
  return [116 * fy - 16, 500 * (fx - fy), 200 * (fy - fz)];
}
function labToRgb(L, a, b) {
  const fy = (L + 16) / 116, fx = fy + a / 500, fz = fy - b / 200;
  const inv = t => t > 0.206893 ? t * t * t : (t - 16 / 116) / 7.787;
  const X = inv(fx) * 0.95047, Y = inv(fy), Z = inv(fz) * 1.08883;
  const r = 3.2404542 * X - 1.5371385 * Y - 0.4985314 * Z;
  const g = -0.9692660 * X + 1.8760108 * Y + 0.0415560 * Z;
  const bb = 0.0556434 * X - 0.2040259 * Y + 1.0572252 * Z;
  return 'rgb(' + fromLin(r) + ',' + fromLin(g) + ',' + fromLin(bb) + ')';
}
const whiteLab = hexToLab('#FFFFFF');
function ramp(hex, t) {
  const h = hexToLab(hex);
  return labToRgb(whiteLab[0] + (h[0] - whiteLab[0]) * t, whiteLab[1] + (h[1] - whiteLab[1]) * t, whiteLab[2] + (h[2] - whiteLab[2]) * t);
}

// ---- layout ----
const FONT = '"Liberation Sans", Arial, Helvetica, sans-serif';
const groupStep = 11.2;
const xMin = -3.22, xMax = 68.1;
const layouts = [
  { panels: biasPanels, left: [147, 645, 1144], width: 487, top: 139, rowStep: 295, height: 248, stripH: 34,
    yMin: -0.0287, yMax: 0.4086, yMajor: biasTicks, yMinor: [0.05, 0.15, 0.25, 0.35],
    title: '3. Bias of Standard Errors Simulation', titleX: 942, titleY: 47,
    yTitle: 'Bias of standard errors', legendX: 1666, legendTop: 154 },
  { panels: powerPanels, left: [147, 646, 1145], width: 488, top: 1191.7, rowStep: 295.3, height: 249.3, stripH: 33.7,
    yMin: 0.5811, yMax: 1.0204, yMajor: powerTicks, yMinor: [0.65, 0.75, 0.85, 0.95],
    title: '4. Power Simulation', titleX: 985, titleY: 1107,
    yTitle: 'Power', legendX: 1669, legendTop: 1208.5 }
];

const measureCtx = document.createElement('canvas').getContext('2d');
function textWidth(t, font) { measureCtx.font = font; return measureCtx.measureText(t).width; }

const grids = [], xAxes = [], yAxes = [], series = [], graphics = [];
const seriesByCond = conditions.map(() => []);

function diaryLabel(v) {
  let best = 0;
  diaryTickPos.forEach((p, i) => { if (Math.abs(p - v) < Math.abs(diaryTickPos[best] - v)) best = i; });
  return diaryLabels[best];
}

function lineData(values) {
  const out = [];
  for (let k = 0; k < 6; k++) {
    for (let j = 0; j < 10; j++) out.push([groupStep * k + j, values[k * 10 + j] / 1000]);
    if (k < 5) out.push([groupStep * k + 9.6, '-']);
  }
  return out;
}

layouts.forEach((L, ci) => {
  L.panels.forEach((panel, p) => {
    const row = Math.floor(p / 3), col = p % 3;
    const gi = grids.length;
    const top = L.top + L.rowStep * row;
    const left = L.left[col];
    const bottomRow = row === 2, leftCol = col === 0;
    grids.push({ left: left, top: top, width: L.width, height: L.height, show: true,
      backgroundColor: '#7f7f7f', borderWidth: 0, containLabel: false, outerBoundsMode: 'none' });
    xAxes.push({ gridIndex: gi, type: 'value', min: xMin, max: xMax, position: 'bottom',
      axisLine: { show: false },
      axisTick: { show: bottomRow, customValues: diaryTickPos, length: 5, lineStyle: { color: '#333333', width: 1.2 } },
      axisLabel: { show: bottomRow, customValues: diaryTickPos, formatter: diaryLabel, margin: 9,
        color: '#4d4d4d', fontSize: 17, fontFamily: FONT },
      splitLine: { show: true, lineStyle: { color: '#6b6b6b', width: 1.4 } } });
    xAxes.push({ gridIndex: gi, type: 'value', min: xMin, max: xMax, position: 'top',
      axisLine: { show: false },
      axisTick: { show: false, customValues: diaryMinorPos },
      axisLabel: { show: false, customValues: diaryMinorPos },
      splitLine: { show: true, lineStyle: { color: '#6b6b6b', width: 0.7 } } });
    yAxes.push({ gridIndex: gi, type: 'value', min: L.yMin, max: L.yMax, position: 'left',
      axisLine: { show: false },
      axisTick: { show: leftCol, customValues: L.yMajor, length: 5, lineStyle: { color: '#333333', width: 1.2 } },
      axisLabel: { show: leftCol, customValues: L.yMajor, formatter: v => v.toFixed(1), margin: 10,
        color: '#4d4d4d', fontSize: 17, fontFamily: FONT },
      splitLine: { show: true, lineStyle: { color: '#6b6b6b', width: 1.4 } } });
    yAxes.push({ gridIndex: gi, type: 'value', min: L.yMin, max: L.yMax, position: 'right',
      axisLine: { show: false },
      axisTick: { show: false, customValues: L.yMinor },
      axisLabel: { show: false, customValues: L.yMinor },
      splitLine: { show: true, lineStyle: { color: '#6b6b6b', width: 0.7 } } });

    // strip
    graphics.push({ type: 'rect', shape: { x: left, y: top - L.stripH, width: L.width, height: L.stripH },
      style: { fill: '#262626' }, silent: true });
    graphics.push({ type: 'text', x: left + L.width / 2, y: top - L.stripH / 2 + 1,
      style: { text: panelLabels[p], fill: '#e5e5e5', font: '17px ' + FONT, align: 'center', verticalAlign: 'middle' }, silent: true });

    panel.forEach((values, c) => {
      seriesByCond[c].push(series.length);
      series.push({ type: 'line', name: conditions[c], xAxisIndex: 2 * gi, yAxisIndex: 2 * gi,
        data: lineData(values), symbol: 'none', connectNulls: false, silent: true,
        lineStyle: { width: 2.5, join: 'round' }, emphasis: { disabled: true }, z: 3 + c });
    });
  });

  // titles
  graphics.push({ type: 'text', x: L.titleX, y: L.titleY,
    style: { text: L.title, fill: '#000', font: 'bold 43px ' + FONT, align: 'center', verticalAlign: 'middle' }, silent: true });
  const yMid = (L.top + L.top + 2 * L.rowStep + L.height) / 2;
  graphics.push({ type: 'text', x: 94, y: yMid, rotation: Math.PI / 2,
    style: { text: L.yTitle, fill: '#000', font: '22px ' + FONT, align: 'center', verticalAlign: 'middle' }, silent: true });
  const midCol = L.left[1] + L.width / 2;
  graphics.push({ type: 'text', x: midCol, y: L.top + 2 * L.rowStep + L.height + 42.5,
    style: { text: 'Number of diaries', fill: '#000', font: '22px ' + FONT, align: 'center', verticalAlign: 'middle' }, silent: true });

  // colourbar legends
  conditions.forEach((name, c) => {
    const barTop = L.legendTop + 106.6 * c;
    const barW = 175, barH = 35;
    const tFont = '22px ' + FONT;
    const barLeft = L.legendX + textWidth(name, tFont) + 14;
    graphics.push({ type: 'text', x: L.legendX, y: barTop + 33,
      style: { text: name, fill: '#000', font: tFont, align: 'left', verticalAlign: 'middle' }, silent: true });
    const stops = [];
    for (let s = 0; s <= 20; s++) stops.push({ offset: s / 20, color: ramp(highColors[c], s / 20) });
    graphics.push({ type: 'rect', shape: { x: barLeft, y: barTop, width: barW, height: barH },
      style: { fill: new echarts.graphic.LinearGradient(0, 0, 1, 0, stops) }, silent: true });
    legendBreaks.forEach(v => {
      const x = barLeft + (v - 5) / 45 * barW;
      graphics.push({ type: 'line', shape: { x1: x, y1: barTop, x2: x, y2: barTop + 7 }, style: { stroke: '#ffffff', lineWidth: 1.2 }, silent: true });
      graphics.push({ type: 'line', shape: { x1: x, y1: barTop + barH - 7, x2: x, y2: barTop + barH }, style: { stroke: '#ffffff', lineWidth: 1.2 }, silent: true });
      graphics.push({ type: 'text', x: x, y: barTop + 54,
        style: { text: String(v), fill: '#1a1a1a', font: '17px ' + FONT, align: 'center', verticalAlign: 'middle' }, silent: true });
    });
  });
});

// colour along each line: segment j takes the colour of its starting n value
const visualMaps = conditions.map((name, c) => {
  const pieces = [];
  for (let k = 0; k < 6; k++) {
    for (let j = 0; j < 9; j++) {
      const piece = { gte: groupStep * k + j, color: ramp(highColors[c], (nValues[j] - 5) / 45) };
      if (j < 8) piece.lt = groupStep * k + j + 1; else piece.lte = groupStep * k + j + 1;
      pieces.push(piece);
    }
  }
  return { type: 'piecewise', show: false, dimension: 0, seriesIndex: seriesByCond[c], pieces: pieces,
    outOfRange: { color: highColors[c] } };
});

const chart = echarts.init(document.getElementById('chart'), null, { renderer: 'canvas', width: 2008, height: 2075 });
chart.setOption({
  animation: false,
  grid: grids,
  xAxis: xAxes,
  yAxis: yAxes,
  visualMap: visualMaps,
  series: series,
  graphic: { elements: graphics }
});
</script>
</body>
</html>
